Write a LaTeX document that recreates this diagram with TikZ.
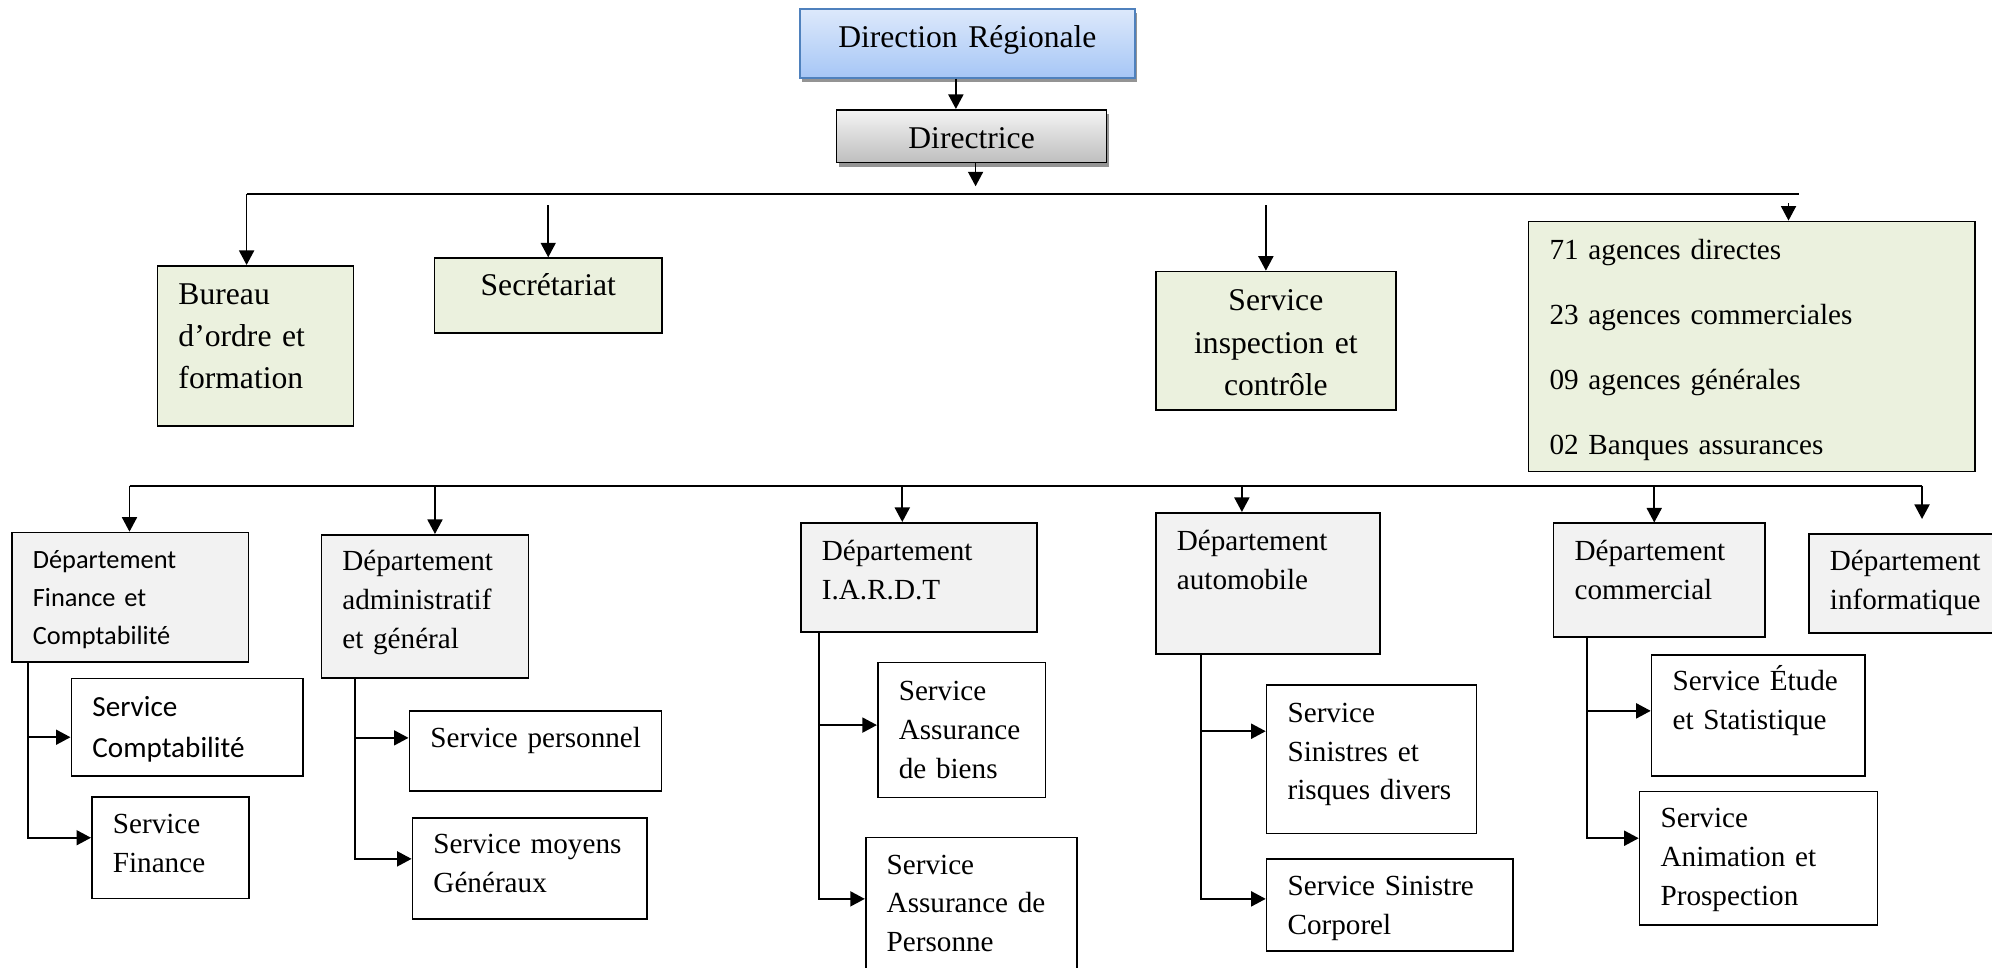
\documentclass[tikz,border=0pt]{standalone}
\usepackage{fontspec}
\setmainfont{Liberation Serif}
\newfontfamily\calibrifont{Carlito}
\usetikzlibrary{arrows.meta,shadows}
\hyphenpenalty=10000
\exhyphenpenalty=10000

\definecolor{unitgreen}{HTML}{EBF1DE}
\definecolor{deptgray}{HTML}{F2F2F2}
\definecolor{drtop}{HTML}{DDE9FB}
\definecolor{drbot}{HTML}{A6C6F6}
\definecolor{drline}{HTML}{4F81BD}
\definecolor{dirtop}{HTML}{F4F4F4}
\definecolor{dirbot}{HTML}{BEBEBE}

\tikzset{
	box/.style={draw, anchor=north west, inner xsep=2.1mm, inner ysep=0pt,
		align=left, font=\fontsize{8.3}{11}\selectfont},
	big/.style={font=\fontsize{9}{12}\selectfont},
	head/.style={box, big, align=center,
		drop shadow={shadow xshift=0.2mm, shadow yshift=-0.4mm, fill=black!70, opacity=0.6}},
	unit/.style={box, big, fill=unitgreen},
	dept/.style={box, fill=deptgray},
	serv/.style={box, fill=white},
	calibri/.style 2 args={font=\calibrifont\fontsize{#1}{#2}\selectfont},
}

\begin{document}
\begin{tikzpicture}[>={Triangle[length=1.45mm,width=1.5mm]}, line width=0.5pt]
		\useasboundingbox (0,0) rectangle (19.92,-9.68);
		% direction
		\node[head, draw=drline, top color=drtop, bottom color=drbot,
			text width=2.93cm, text height=0.387cm, text depth=0.303cm] (DR) at (7.99,-0.08) {Direction Régionale};
		\node[head, top color=dirtop, bottom color=dirbot,
			text width=2.28cm, text height=0.387cm, text depth=0.14cm] (DIR) at (8.357,-1.09) {Directrice};
		% rattachements directs
		\node[unit, text width=1.54cm, text height=0.383cm, text depth=1.217cm] (BUR) at (1.566,-2.65) {Bureau\\
			d’ordre~et\\formation};
		\node[unit, align=center, text width=1.853cm, text height=0.377cm, text depth=0.37cm] (SEC) at (4.337,-2.573) {Secrétariat};
		\node[unit, align=center, text width=1.98cm, text height=0.393cm, text depth=0.993cm] (INS) at (11.55,-2.707) {Service\\
			inspection~et\\contrôle};
		\node[unit, font=\fontsize{8.3}{18.5}\selectfont, text width=4.043cm, text height=0.38cm, text depth=2.12cm] (AG) at (15.277,-2.206) {71~agences~directes\\
			23~agences~commerciales\\09~agences~générales\\02~Banques~assurances};
		% departements
		\node[dept, calibri={7.5}{10.7}, text width=1.947cm, text height=0.363cm, text depth=0.93cm] (DF) at (0.11,-5.317) {Département\\
			Finance~et\\Comptabilité};
		\node[dept, text width=1.652cm, text height=0.36cm, text depth=1.07cm] (DA) at (3.205,-5.34) {Département\\
			administratif\\et~général};
		\node[dept, text width=1.938cm, text height=0.38cm, text depth=0.714cm] (DI) at (8.0,-5.22) {Département\\I.A.R.D.T};
		\node[dept, text width=1.82cm, text height=0.38cm, text depth=1.03cm] (DAU) at (11.55,-5.12) {Département\\automobile};
		\node[dept, text width=1.693cm, text height=0.375cm, text depth=0.76cm] (DC) at (15.527,-5.225) {Département\\commercial};
		\node[dept, text width=1.42cm, text height=0.37cm, text depth=0.62cm] (DINF) at (18.08,-5.33) {Département\\informatique};
		% services
		\node[serv, calibri={8.3}{11.5}, text width=1.895cm, text height=0.383cm, text depth=0.59cm] (SC) at (0.705,-6.777) {Service\\Comptabilité};
		\node[serv, text width=1.148cm, text height=0.37cm, text depth=0.647cm] (SF) at (0.91,-7.96) {Service\\Finance};
		\node[serv, text width=2.102cm, text height=0.367cm, text depth=0.433cm] (SP) at (4.085,-7.10) {Service~personnel};
		\node[serv, text width=1.924cm, text height=0.36cm, text depth=0.65cm] (SM) at (4.116,-8.17) {Service~moyens\\Généraux};
		\node[serv, text width=1.258cm, text height=0.383cm, text depth=0.967cm] (SB) at (8.769,-6.617) {Service\\
			Assurance\\de~biens};
		\node[serv, text width=1.692cm, text height=0.366cm, text depth=1.0cm] (SPE) at (8.648,-8.367) {Service\\
			Assurance~de\\Personne};
		\node[serv, text width=1.678cm, text height=0.377cm, text depth=1.11cm] (SS) at (12.657,-6.84) {Service\\
			Sinistres~et\\risques~divers};
		\node[serv, text width=2.041cm, text height=0.37cm, text depth=0.55cm] (SCO) at (12.657,-8.58) {Service~Sinistre\\Corporel};
		\node[serv, text width=1.713cm, text height=0.36cm, text depth=0.85cm] (SE) at (16.507,-6.54) {Service~Étude\\et~Statistique};
		\node[serv, text width=1.96cm, text height=0.363cm, text depth=0.97cm] (SA) at (16.387,-7.907) {Service\\
			Animation~et\\Prospection};
		% barres
		\coordinate (B1W) at (2.466,-1.943);
		\coordinate (B1E) at (17.985,-1.943);
		\coordinate (B2W) at (1.295,-4.857);
		\coordinate (B2E) at (19.22,-4.857);
		\draw (B1W) -- (B1E);
		\draw (B2W) -- (B2E);
		\draw[->] ([xshift=-1.15mm]DR.south) -- ([xshift=-1.15mm]DR.south |- DIR.north);
		\draw[->] ([xshift=0.4mm]DIR.south) -- ([xshift=0.4mm,yshift=0.8mm]DIR.south |- B1W);
		\draw[->] (B1W) -- (B1W |- BUR.north);
		\draw[->] ([yshift=-1.1mm]B1W -| SEC.north) -- (SEC.north);
		\draw[->] ([xshift=-1mm,yshift=-1.1mm]B1W -| INS.north) -- ([xshift=-1mm]INS.north);
		\draw[->] ([xshift=-1mm,yshift=-0.9mm]B1E) -- ([xshift=-1mm]B1E |- AG.north);
		\draw[->] (B2W) -- (B2W |- DF.north);
		\draw[->] ([xshift=1mm]DA.north |- B2W) -- ([xshift=1mm]DA.north);
		\draw[->] ([xshift=-1.65mm]DI.north |- B2W) -- ([xshift=-1.65mm]DI.north);
		\draw[->] ([xshift=-2.6mm]DAU.north |- B2W) -- ([xshift=-2.6mm]DAU.north);
		\draw[->] ([xshift=-0.5mm]DC.north |- B2W) -- ([xshift=-0.5mm]DC.north);
		\draw[->] (B2E) -- ([yshift=1.4mm]B2E |- DINF.north);
		% services rattaches
		\draw[->] ([xshift=1.7mm]DF.south west) |- ([yshift=-1mm]SC.west);
		\draw[->] ([xshift=1.7mm]DF.south west) |- ([yshift=1mm]SF.west);
		\draw[->] ([xshift=3.45mm]DA.south west) |- ([yshift=1.3mm]SP.west);
		\draw[->] ([xshift=3.45mm]DA.south west) |- ([yshift=0.95mm]SM.west);
		\draw[->] ([xshift=1.9mm]DI.south west) |- ([yshift=0.5mm]SB.west);
		\draw[->] ([xshift=1.9mm]DI.south west) |- ([yshift=0.7mm]SPE.west);
		\draw[->] ([xshift=4.6mm]DAU.south west) |- ([yshift=2.8mm]SS.west);
		\draw[->] ([xshift=4.6mm]DAU.south west) |- ([yshift=0.6mm]SCO.west);
		\draw[->] ([xshift=3.4mm]DC.south west) |- ([yshift=0.45mm]SE.west);
		\draw[->] ([xshift=3.4mm]DC.south west) |- ([yshift=2mm]SA.west);
	\end{tikzpicture}
\end{document}
